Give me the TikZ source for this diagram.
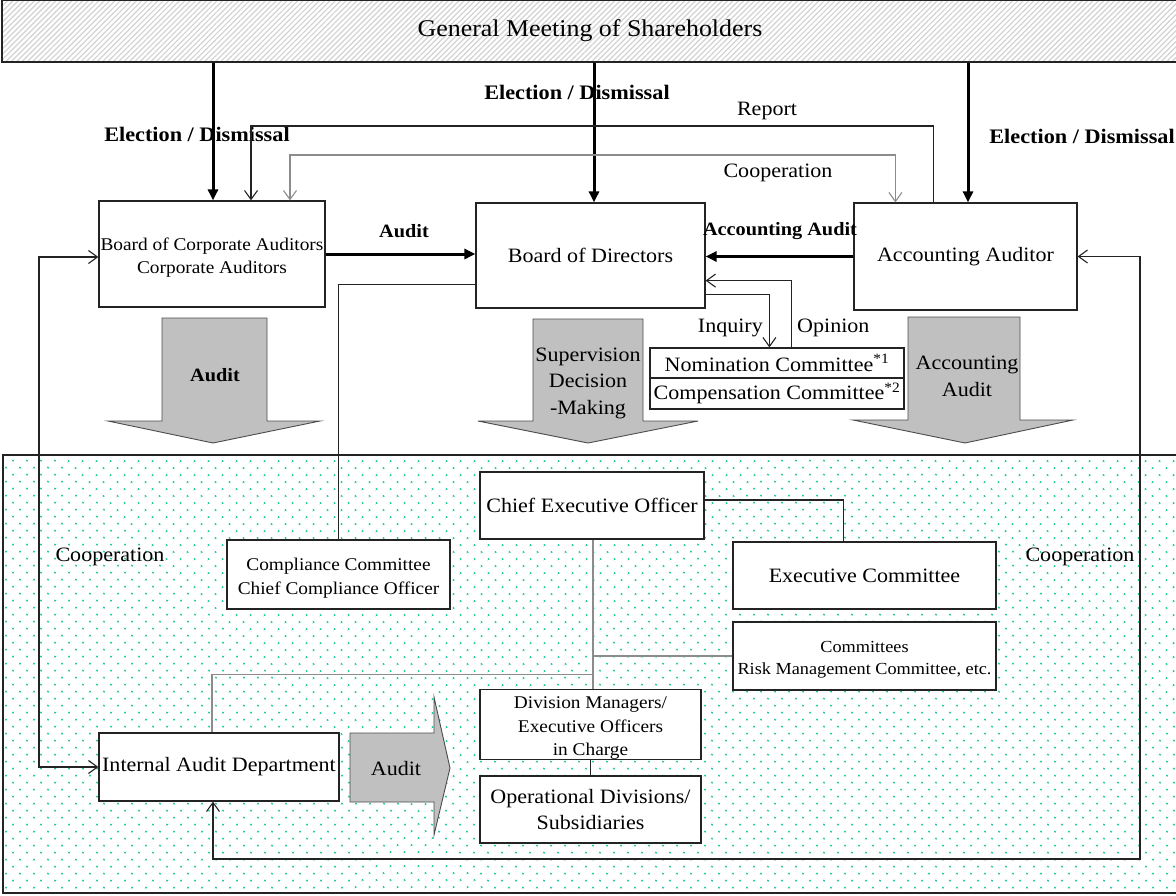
\documentclass[tikz,border=0pt]{standalone}
\usepackage{fontspec}
\setmainfont{Liberation Serif}[FakeStretch=1.08]
\usetikzlibrary{arrows.meta,patterns.meta,calc}
\definecolor{dotc}{RGB}{40,200,160}
\definecolor{blk}{RGB}{35,35,35}
\definecolor{arrg}{RGB}{192,192,192}
\definecolor{lineg}{RGB}{140,140,140}
\newcommand\padtop{\rule{0pt}{19.5pt}}
\begin{document}
\begin{tikzpicture}[x=1pt,y=-1pt,
 tx/.style={font=\fontsize{20.4}{26.5}\selectfont},
 sm/.style={font=\fontsize{17.9}{23.5}\selectfont},
 tn/.style={font=\fontsize{16.9}{22}\selectfont},
 bl/.style={font=\fontsize{20.6}{24}\selectfont\bfseries},
 bs/.style={font=\fontsize{18.8}{22}\selectfont\bfseries},
 box/.style={draw=blk,line width=1.2pt,fill=white,inner sep=0pt,align=center},
 conn/.style={draw=blk,line width=1.1pt},
 gconn/.style={draw=lineg,line width=1.1pt},
 elect/.style={draw=black,line width=3pt,-{Triangle[length=11pt,width=10pt]}},
 oa/.style={-{Straight Barb[length=9pt,width=13pt]}},
 oab/.style={{Straight Barb[length=9pt,width=13pt]}-{Straight Barb[length=9pt,width=13pt]}},
 blockarrow/.style={fill=arrg,draw=gray!60!black,line width=0.9pt}
]
\useasboundingbox (0,0) rectangle (1176,895);

% bottom dotted region
\path[fill=white] (3,455) rectangle (1182,893);
\path[pattern={Dots[angle=45,distance=10.5pt,radius=1.3pt]},pattern color=dotc,draw=blk,line width=1.1pt] (3,455) rectangle (1182,893);

% top box
\node[draw=blk,line width=1.2pt,preaction={fill=white},
  pattern={Lines[angle=45,distance=3.8pt,line width=1.2pt]},pattern color=gray!35,
  minimum width=1176pt,minimum height=62pt,inner sep=0pt,
  font=\fontsize{24}{28}\selectfont] (gms) at (590,31) {General Meeting of Shareholders};

% boxes
\node[box,sm,minimum width=226pt,minimum height=106pt] (bca) at (212,254) {\padtop Board of Corporate Auditors\\Corporate Auditors};
\node[box,tx,minimum width=229pt,minimum height=105pt] (bod) at (590.5,255.5) {Board of Directors};
\node[box,tx,minimum width=223pt,minimum height=107pt] (aa) at (965.5,256.5) {Accounting Auditor};
\node[box,tx,minimum width=254pt,minimum height=30pt] (nom) at (777,363) {Nomination Committee\textsuperscript{*1}};
\node[box,tx,minimum width=254pt,minimum height=31pt] (comp) at (777,393.5) {Compensation Committee\textsuperscript{*2}};
\node[box,tx,minimum width=224pt,minimum height=67pt] (ceo) at (592,505.5) {Chief Executive Officer};
\node[box,sm,minimum width=223pt,minimum height=69pt] (cc) at (338.5,574.5) {\padtop Compliance Committee\\Chief Compliance Officer};
\node[box,tx,minimum width=263pt,minimum height=67pt] (ec) at (864.5,575.5) {Executive Committee};
\node[box,tn,minimum width=263pt,minimum height=68pt] (cmt) at (864.5,656) {\padtop Committees\\Risk Management Committee, etc.};
\node[box,sm,minimum width=221pt,minimum height=69pt] (dm) at (590.5,724.5) {\padtop Division Managers/\\Executive Officers\\in Charge};
\node[box,tx,minimum width=221pt,minimum height=67pt] (od) at (590.5,809.5) {Operational Divisions/\\Subsidiaries};
\node[box,tx,minimum width=240pt,minimum height=68pt] (iad) at (219,767) {Internal Audit Department};

% block arrows
\draw[blockarrow] (162,318) -- (267,318) -- (267,421) -- (320,421) -- (213,443) -- (108,421) -- (162,421) -- cycle;
\draw[blockarrow] (533,319) -- (643,319) -- (643,421) -- (698,421) -- (588,443) -- (478,421) -- (533,421) -- cycle;
\draw[blockarrow] (908,317) -- (1020,317) -- (1020,420) -- (1073,420) -- (965,443) -- (853,420) -- (908,420) -- cycle;
\draw[blockarrow] (350,733) -- (434,733) -- (434,697) -- (450,768) -- (434,835) -- (434,802) -- (350,802) -- cycle;
\node[bs] (ba1) at (215,375) {Audit};
\node[tx,align=center] (ba2) at (588,383) {Supervision\\Decision\\-Making};
\node[tx,align=center] (ba3) at (967,376.5) {Accounting\\Audit};
\node[tx] (ba4) at (396,769) {Audit};

% labels
\node[bl] (el1) at (197,134) {Election / Dismissal};
\node[bl] (el2) at (577,92) {Election / Dismissal};
\node[bl,anchor=east,inner sep=0pt] (el3) at (1175,136) {Election / Dismissal};
\node[tx] (rep) at (767,111) {Report};
\node[tx] (coop) at (778,173) {Cooperation};
\node[bs] (aud) at (404,231) {Audit};
\node[bs] (accaud) at (780,231) {Accounting Audit};
\node[tx,anchor=east,inner sep=0pt] (inq) at (763,328) {Inquiry};
\node[tx,anchor=west,inner sep=0pt] (opi) at (797,328) {Opinion};
\node[tx] (coopl) at (110,557) {Cooperation};
\node[tx] (coopr) at (1080,557) {Cooperation};

% coordinates
\coordinate (e1) at ($(bca.north)+(1,0)$);
\coordinate (e2) at ($(bod.north)+(3.5,0)$);
\coordinate (e3) at ($(aa.north)+(2.5,0)$);
\coordinate (rA) at ($(aa.north west)+(80,0)$);
\coordinate (rL) at (251,126);
\coordinate (coA) at ($(aa.north west)+(42,0)$);
\coordinate (coL) at (290,155);
\coordinate (iq) at ($(bod.south east)+(0,-14)$);
\coordinate (iqx) at ($(nom.north west)+(120,0)$);
\coordinate (op) at ($(nom.north west)+(142,0)$);
\coordinate (opy) at ($(bod.south east)+(0,-28)$);
\coordinate (lx) at (39,0);
\coordinate (bw) at ($(bca.west)+(0,3)$);
\coordinate (rb) at (1140,859);
\coordinate (ib) at ($(iad.south)+(-6,0)$);
\coordinate (cq) at ($(bod.south west)+(0,-24)$);
\coordinate (c1) at ($(ceo.east)+(0,-5.5)$);
\coordinate (ecx) at ($(ec.north west)+(111,0)$);
\coordinate (cs) at ($(ceo.south)+(1,0)$);
\coordinate (jn) at ($(cs)+(0,135)$);
\coordinate (ia) at ($(iad.north)+(-7,0)$);

% election arrows
\draw[elect] (e1 |- gms.south) -- (e1);
\draw[elect] (e2 |- gms.south) -- (e2);
\draw[elect] (e3 |- gms.south) -- (e3);

% report & cooperation
\draw[conn,oa] (rA) |- (rL) -- (rL |- bca.north);
\draw[gconn,oab] (coL |- bca.north) -- (coL) -| (coA);

% audit arrows
\draw[elect] (bca.east) -- (bca.east -| bod.west);
\draw[elect] (aa.west) -- (aa.west -| bod.east);

% inquiry / opinion
\draw[conn,oa] (iq) -| (iqx);
\draw[conn,oa] (op) |- (opy);

% loops
\draw[conn,oab] (iad.west) -| (lx |- bw) -- (bw);
\draw[conn,oab] (aa.east) -| (rb) -| (ib);

% compliance
\draw[conn] (cq) -| (cc.north);

% ceo lines
\draw[conn] (c1) -| (ecx);
\draw[gconn] (cs) -- (cs |- dm.north);
\draw[gconn] (cmt.west) -- (cmt.west -| cs);
\draw[gconn] (ia) |- (jn);
\draw[conn] (dm.south) -- (od.north);
\end{tikzpicture}
\end{document}
